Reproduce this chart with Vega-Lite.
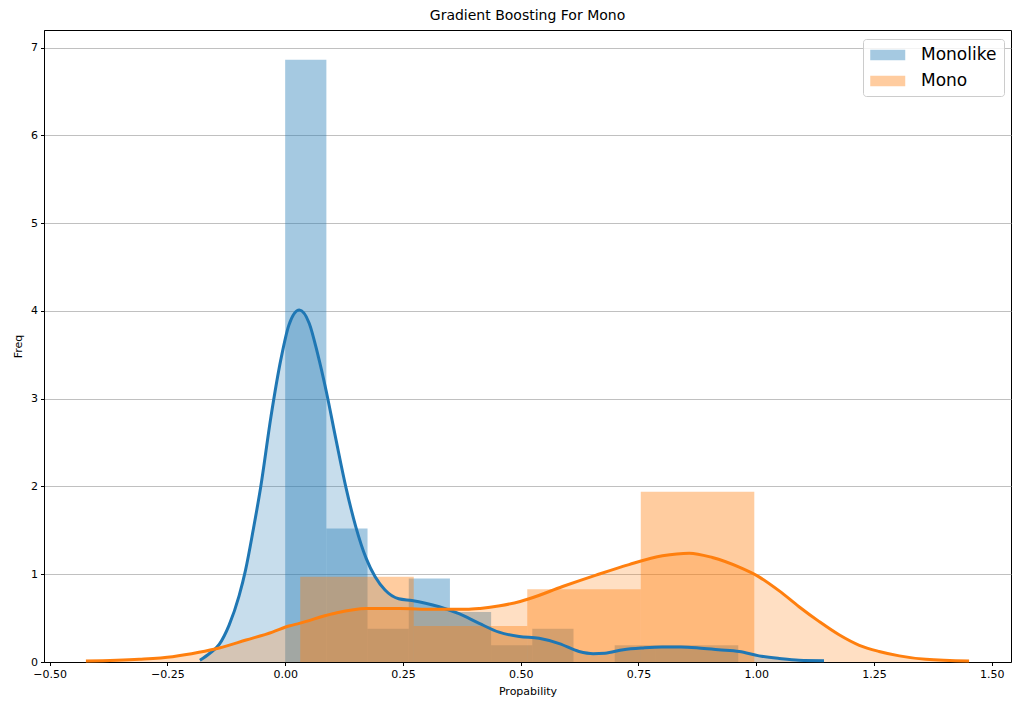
{
  "$schema": "https://vega.github.io/schema/vega-lite/v6.json",
  "width": 967,
  "height": 632,
  "autosize": {"type": "none"},
  "padding": {"left": 44, "top": 30, "right": 2, "bottom": 42},
  "background": "white",
  "title": {
    "text": "Gradient Boosting For Mono",
    "font": "DejaVu Sans",
    "fontSize": 14,
    "fontWeight": "normal",
    "color": "black",
    "anchor": "middle",
    "offset": 7
  },
  "config": {
    "font": "DejaVu Sans",
    "view": {"stroke": "black", "strokeWidth": 1},
    "axis": {
      "labelFont": "DejaVu Sans",
      "titleFont": "DejaVu Sans",
      "labelFontSize": 11,
      "titleFontSize": 11,
      "titleFontWeight": "normal",
      "labelColor": "black",
      "titleColor": "black",
      "tickColor": "black",
      "tickSize": 3.5,
      "tickWidth": 1,
      "domainColor": "black",
      "labelPadding": 3,
      "gridColor": "#b0b0b0",
      "gridWidth": 0.8
    }
  },
  "datasets": {
    "hist": [
      {"series": "Monolike", "bin_start": 0.0, "bin_end": 0.0875, "density": 6.86},
      {"series": "Monolike", "bin_start": 0.0875, "bin_end": 0.1749, "density": 1.52},
      {"series": "Monolike", "bin_start": 0.1749, "bin_end": 0.2624, "density": 0.38},
      {"series": "Monolike", "bin_start": 0.2624, "bin_end": 0.3498, "density": 0.95},
      {"series": "Monolike", "bin_start": 0.3498, "bin_end": 0.4373, "density": 0.57},
      {"series": "Monolike", "bin_start": 0.4373, "bin_end": 0.5247, "density": 0.19},
      {"series": "Monolike", "bin_start": 0.5247, "bin_end": 0.6122, "density": 0.38},
      {"series": "Monolike", "bin_start": 0.6122, "bin_end": 0.6996, "density": 0.0},
      {"series": "Monolike", "bin_start": 0.6996, "bin_end": 0.7871, "density": 0.19},
      {"series": "Monolike", "bin_start": 0.7871, "bin_end": 0.8745, "density": 0.19},
      {"series": "Monolike", "bin_start": 0.8745, "bin_end": 0.962, "density": 0.19},
      {"series": "Mono", "bin_start": 0.032, "bin_end": 0.273, "density": 0.97},
      {"series": "Mono", "bin_start": 0.273, "bin_end": 0.514, "density": 0.41},
      {"series": "Mono", "bin_start": 0.514, "bin_end": 0.755, "density": 0.83},
      {"series": "Mono", "bin_start": 0.755, "bin_end": 0.996, "density": 1.94}
    ],
    "kde": [
      {"series": "Monolike", "x": -0.181, "density": 0.02},
      {"series": "Monolike", "x": -0.16, "density": 0.1},
      {"series": "Monolike", "x": -0.14, "density": 0.2},
      {"series": "Monolike", "x": -0.119, "density": 0.42},
      {"series": "Monolike", "x": -0.098, "density": 0.75},
      {"series": "Monolike", "x": -0.084, "density": 1.05},
      {"series": "Monolike", "x": -0.068, "density": 1.5},
      {"series": "Monolike", "x": -0.052, "density": 1.99},
      {"series": "Monolike", "x": -0.03, "density": 2.8},
      {"series": "Monolike", "x": -0.009, "density": 3.45},
      {"series": "Monolike", "x": 0.008, "density": 3.84},
      {"series": "Monolike", "x": 0.03, "density": 4.01},
      {"series": "Monolike", "x": 0.051, "density": 3.86},
      {"series": "Monolike", "x": 0.069, "density": 3.51},
      {"series": "Monolike", "x": 0.087, "density": 3.09},
      {"series": "Monolike", "x": 0.108, "density": 2.53},
      {"series": "Monolike", "x": 0.129, "density": 1.99},
      {"series": "Monolike", "x": 0.15, "density": 1.54},
      {"series": "Monolike", "x": 0.172, "density": 1.18},
      {"series": "Monolike", "x": 0.191, "density": 0.97},
      {"series": "Monolike", "x": 0.212, "density": 0.82},
      {"series": "Monolike", "x": 0.241, "density": 0.72},
      {"series": "Monolike", "x": 0.269, "density": 0.7},
      {"series": "Monolike", "x": 0.298, "density": 0.67},
      {"series": "Monolike", "x": 0.327, "density": 0.63},
      {"series": "Monolike", "x": 0.369, "density": 0.55},
      {"series": "Monolike", "x": 0.412, "density": 0.44},
      {"series": "Monolike", "x": 0.454, "density": 0.34},
      {"series": "Monolike", "x": 0.497, "density": 0.29},
      {"series": "Monolike", "x": 0.539, "density": 0.27},
      {"series": "Monolike", "x": 0.582, "density": 0.21},
      {"series": "Monolike", "x": 0.624, "density": 0.12},
      {"series": "Monolike", "x": 0.654, "density": 0.095},
      {"series": "Monolike", "x": 0.679, "density": 0.1},
      {"series": "Monolike", "x": 0.718, "density": 0.14},
      {"series": "Monolike", "x": 0.76, "density": 0.16},
      {"series": "Monolike", "x": 0.8, "density": 0.17},
      {"series": "Monolike", "x": 0.84, "density": 0.17},
      {"series": "Monolike", "x": 0.878, "density": 0.16},
      {"series": "Monolike", "x": 0.92, "density": 0.14},
      {"series": "Monolike", "x": 0.964, "density": 0.12},
      {"series": "Monolike", "x": 1.006, "density": 0.07},
      {"series": "Monolike", "x": 1.049, "density": 0.04},
      {"series": "Monolike", "x": 1.091, "density": 0.02},
      {"series": "Monolike", "x": 1.144, "density": 0.015},
      {"series": "Mono", "x": -0.423, "density": 0.01},
      {"series": "Mono", "x": -0.31, "density": 0.03},
      {"series": "Mono", "x": -0.239, "density": 0.06},
      {"series": "Mono", "x": -0.183, "density": 0.11},
      {"series": "Mono", "x": -0.14, "density": 0.16},
      {"series": "Mono", "x": -0.083, "density": 0.25},
      {"series": "Mono", "x": -0.027, "density": 0.34},
      {"series": "Mono", "x": 0.008, "density": 0.41},
      {"series": "Mono", "x": 0.03, "density": 0.44},
      {"series": "Mono", "x": 0.101, "density": 0.55},
      {"series": "Mono", "x": 0.172, "density": 0.61},
      {"series": "Mono", "x": 0.244, "density": 0.61},
      {"series": "Mono", "x": 0.314, "density": 0.6},
      {"series": "Mono", "x": 0.385, "density": 0.6},
      {"series": "Mono", "x": 0.414, "density": 0.61},
      {"series": "Mono", "x": 0.456, "density": 0.64},
      {"series": "Mono", "x": 0.499, "density": 0.69},
      {"series": "Mono", "x": 0.518, "density": 0.72},
      {"series": "Mono", "x": 0.589, "density": 0.86},
      {"series": "Mono", "x": 0.66, "density": 0.99},
      {"series": "Mono", "x": 0.73, "density": 1.11},
      {"series": "Mono", "x": 0.801, "density": 1.21},
      {"series": "Mono", "x": 0.858, "density": 1.24},
      {"series": "Mono", "x": 0.907, "density": 1.19},
      {"series": "Mono", "x": 0.964, "density": 1.08},
      {"series": "Mono", "x": 1.006, "density": 0.97},
      {"series": "Mono", "x": 1.049, "density": 0.81},
      {"series": "Mono", "x": 1.091, "density": 0.63},
      {"series": "Mono", "x": 1.134, "density": 0.46},
      {"series": "Mono", "x": 1.176, "density": 0.31},
      {"series": "Mono", "x": 1.219, "density": 0.19},
      {"series": "Mono", "x": 1.261, "density": 0.12},
      {"series": "Mono", "x": 1.304, "density": 0.07},
      {"series": "Mono", "x": 1.36, "density": 0.03},
      {"series": "Mono", "x": 1.452, "density": 0.01}
    ]
  },
  "layer": [
    {
      "data": {"name": "hist"},
      "transform": [{"filter": "datum.series === 'Monolike'"}],
      "mark": {"type": "rect", "opacity": 0.4},
      "encoding": {
        "x": {
          "field": "bin_start", "type": "quantitative", "title": "Propability",
          "scale": {"domain": [-0.512, 1.541], "nice": false, "zero": false},
          "axis": {"values": [-0.5, -0.25, 0, 0.25, 0.5, 0.75, 1, 1.25, 1.5], "format": ".2f", "grid": false, "titlePadding": 6}
        },
        "x2": {"field": "bin_end"},
        "y": {
          "field": "density", "type": "quantitative", "title": "Freq",
          "scale": {"domain": [0, 7.2], "nice": false},
          "axis": {"values": [0, 1, 2, 3, 4, 5, 6, 7], "format": "d", "grid": true, "titlePadding": 7}
        },
        "y2": {"datum": 0},
        "color": {
          "field": "series", "type": "nominal",
          "scale": {"domain": ["Monolike", "Mono"], "range": ["#1f77b4", "#ff7f0e"]},
          "legend": {
            "title": null,
            "orient": "none",
            "legendX": 819,
            "legendY": 9,
            "labelFont": "DejaVu Sans",
            "labelFontSize": 17,
            "labelColor": "black",
            "labelLimit": 300,
            "labelOffset": 33,
            "symbolType": "M-1,-0.6H3V0.6H-1Z",
            "symbolSize": 306,
            "symbolOpacity": 0.4,
            "symbolStrokeWidth": 0,
            "fillColor": "rgba(255,255,255,0.8)",
            "strokeColor": "#cccccc",
            "cornerRadius": 3,
            "padding": 7,
            "rowPadding": 9
          }
        }
      }
    },
    {
      "data": {"name": "kde"},
      "transform": [{"filter": "datum.series === 'Monolike'"}],
      "mark": {"type": "area", "color": "#1f77b4", "opacity": 0.25, "interpolate": "monotone"},
      "encoding": {
        "x": {"field": "x", "type": "quantitative", "title": "Propability", "scale": {"domain": [-0.512, 1.541], "nice": false, "zero": false}},
        "y": {"field": "density", "type": "quantitative", "title": "Freq", "scale": {"domain": [0, 7.2], "nice": false}}
      }
    },
    {
      "data": {"name": "hist"},
      "transform": [{"filter": "datum.series === 'Mono'"}],
      "mark": {"type": "rect", "opacity": 0.4},
      "encoding": {
        "x": {"field": "bin_start", "type": "quantitative", "title": "Propability", "scale": {"domain": [-0.512, 1.541], "nice": false, "zero": false}},
        "x2": {"field": "bin_end"},
        "y": {"field": "density", "type": "quantitative", "title": "Freq", "scale": {"domain": [0, 7.2], "nice": false}},
        "y2": {"datum": 0},
        "color": {
          "field": "series", "type": "nominal",
          "scale": {"domain": ["Monolike", "Mono"], "range": ["#1f77b4", "#ff7f0e"]}
        }
      }
    },
    {
      "data": {"name": "kde"},
      "transform": [{"filter": "datum.series === 'Mono'"}],
      "mark": {"type": "area", "color": "#ff7f0e", "opacity": 0.25, "interpolate": "monotone"},
      "encoding": {
        "x": {"field": "x", "type": "quantitative", "title": "Propability", "scale": {"domain": [-0.512, 1.541], "nice": false, "zero": false}},
        "y": {"field": "density", "type": "quantitative", "title": "Freq", "scale": {"domain": [0, 7.2], "nice": false}}
      }
    },
    {
      "data": {"name": "kde"},
      "transform": [{"filter": "datum.series === 'Monolike'"}],
      "mark": {"type": "line", "color": "#1f77b4", "strokeWidth": 3, "interpolate": "monotone", "strokeJoin": "round"},
      "encoding": {
        "x": {"field": "x", "type": "quantitative", "title": "Propability", "scale": {"domain": [-0.512, 1.541], "nice": false, "zero": false}},
        "y": {"field": "density", "type": "quantitative", "title": "Freq", "scale": {"domain": [0, 7.2], "nice": false}}
      }
    },
    {
      "data": {"name": "kde"},
      "transform": [{"filter": "datum.series === 'Mono'"}],
      "mark": {"type": "line", "color": "#ff7f0e", "strokeWidth": 3, "interpolate": "monotone", "strokeJoin": "round"},
      "encoding": {
        "x": {"field": "x", "type": "quantitative", "title": "Propability", "scale": {"domain": [-0.512, 1.541], "nice": false, "zero": false}},
        "y": {"field": "density", "type": "quantitative", "title": "Freq", "scale": {"domain": [0, 7.2], "nice": false}}
      }
    }
  ]
}
